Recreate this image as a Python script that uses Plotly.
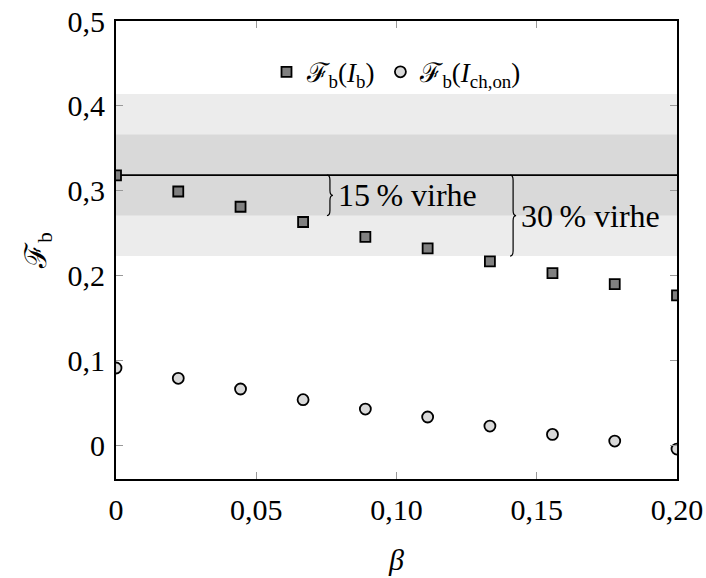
import numpy as np
import plotly.graph_objects as go

# ---- data ----
beta = [0.0, 0.0222, 0.0444, 0.0667, 0.0889, 0.1111, 0.1333, 0.1556, 0.1778, 0.2]
F_Ib = [0.318, 0.299, 0.281, 0.263, 0.2455, 0.232, 0.2165, 0.2027, 0.1898, 0.1765]
F_Ich = [0.0909, 0.0787, 0.0661, 0.0535, 0.0425, 0.0331, 0.0224, 0.0126, 0.0047, -0.0047]
F_ref = 1 / np.pi
err_small = 0.15
err_large = 0.30
brace_x_small = 0.0752
brace_x_large = 0.1405

xtick_vals = [0, 0.05, 0.10, 0.15, 0.20]
xtick_text = ["0", "0,05", "0,10", "0,15", "0,20"]
ytick_vals = [0, 0.1, 0.2, 0.3, 0.4, 0.5]
ytick_text = ["0", "0,1", "0,2", "0,3", "0,4", "0,5"]

FONT = "Liberation Serif, DejaVu Serif, serif"

fig = go.Figure()

# reference line
fig.add_trace(go.Scatter(x=[xtick_vals[0], xtick_vals[-1]], y=[F_ref, F_ref], mode="lines",
                         line=dict(color="black", width=1.6), showlegend=False, hoverinfo="skip"))

fig.add_trace(go.Scatter(x=beta, y=F_Ib, mode="markers", name="ℱ<sub>b</sub>(<i>I</i><sub>b</sub>)",
                         marker=dict(symbol="square", size=10, color="#808080",
                                     line=dict(color="black", width=1.8))))
fig.add_trace(go.Scatter(x=beta, y=F_Ich, mode="markers", name="ℱ<sub>b</sub>(<i>I</i><sub>ch,on</sub>)",
                         marker=dict(symbol="circle", size=11, color="#d9d9d9",
                                     line=dict(color="black", width=1.8))))

# error bands
fig.add_shape(type="rect", xref="paper", x0=0, x1=1, yref="y",
              y0=F_ref * (1 - err_large), y1=F_ref * (1 + err_large),
              fillcolor="#ececec", line_width=0, layer="below")
fig.add_shape(type="rect", xref="paper", x0=0, x1=1, yref="y",
              y0=F_ref * (1 - err_small), y1=F_ref * (1 + err_small),
              fillcolor="#d9d9d9", line_width=0, layer="below")


def brace_path(y_t, y_b, w=6, d=0.006):
    y_m = (y_t + y_b) / 2
    h = w / 2
    return (f"M 0,{y_t} Q {h},{y_t} {h},{y_t - d} L {h},{y_m + d} "
            f"Q {h},{y_m} {w},{y_m} Q {h},{y_m} {h},{y_m - d} "
            f"L {h},{y_b + d} Q {h},{y_b} 0,{y_b}")


for bx, err in [(brace_x_small, err_small), (brace_x_large, err_large)]:
    y_t = F_ref
    y_b = F_ref * (1 - err)
    fig.add_shape(type="path", xref="x", yref="y", xsizemode="pixel", xanchor=bx,
                  path=brace_path(y_t, y_b), line=dict(color="black", width=1.2))
    fig.add_annotation(x=bx, y=(y_t + y_b) / 2, xref="x", yref="y", xanchor="left",
                       xshift=9, yshift=0, showarrow=False,
                       text=f"{int(round(err * 100))}\u2009% virhe",
                       font=dict(family=FONT, size=32, color="black"))

fig.update_layout(
    width=706, height=578,
    margin=dict(l=116, r=29, t=21, b=99),
    plot_bgcolor="white", paper_bgcolor="white",
    separators=",.",
    font=dict(family=FONT, size=30, color="black"),
    showlegend=True,
    legend=dict(orientation="h", x=0.5, xanchor="center", y=0.888, yanchor="middle",
                bgcolor="rgba(0,0,0,0)", font=dict(family=FONT, size=27), itemwidth=30,
                tracegroupgap=0),
    xaxis=dict(range=[0, 0.2], tickvals=xtick_vals, ticktext=xtick_text, automargin=False,
               showgrid=False, zeroline=False, showline=True, linecolor="black", linewidth=2,
               mirror="ticks", ticks="inside", tickcolor="#999999", ticklen=7, tickwidth=1,
               ticklabelstandoff=3,
               title=dict(text="<i>β</i>", font=dict(size=30), standoff=24)),
    yaxis=dict(range=[-0.04, 0.5], tickvals=ytick_vals, ticktext=ytick_text, automargin=False,
               showgrid=False, zeroline=False, showline=True, linecolor="black", linewidth=2,
               mirror="ticks", ticks="inside", tickcolor="#999999", ticklen=7, tickwidth=1,
               ticklabelstandoff=3,
               title=dict(text="ℱ<sub>b</sub>", font=dict(size=30), standoff=12)),
)

fig.write_html("out.html", config={"displayModeBar": False},
               post_script="document.body.style.margin='0';")
